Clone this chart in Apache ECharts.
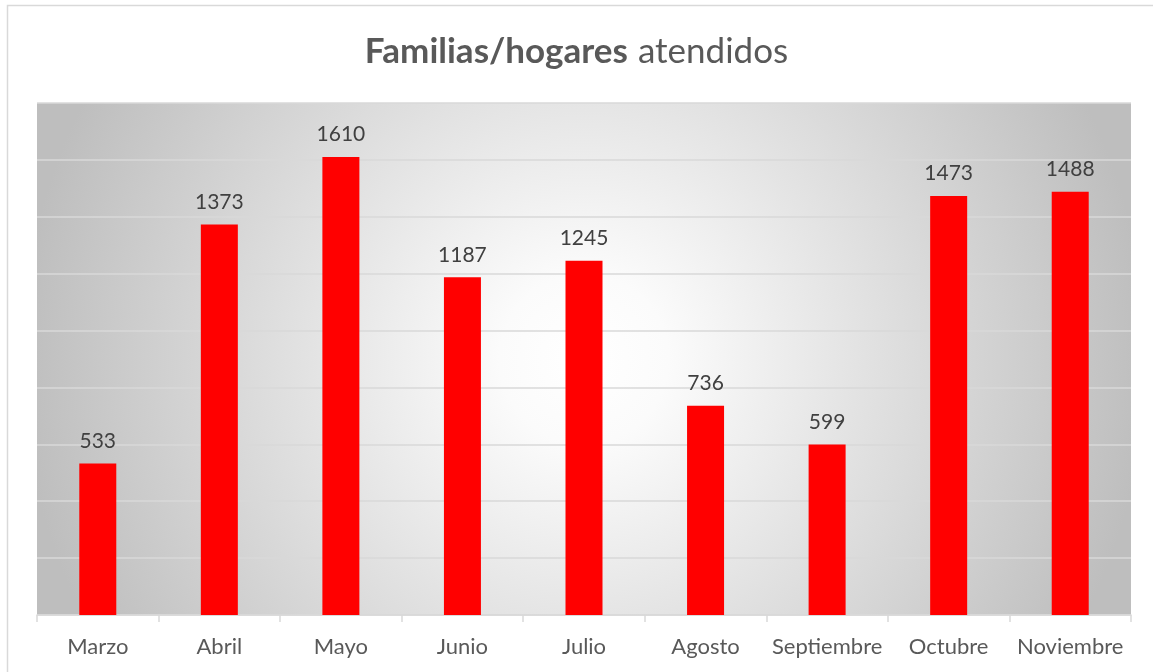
<!DOCTYPE html>
<html>
<head>
<meta charset="utf-8">
<script src="https://cdn.jsdelivr.net/npm/echarts@6/dist/echarts.min.js"></script>
<style>
  html, body { margin: 0; padding: 0; background: #fff; }
  #main { width: 1153px; height: 672px; }
</style>
</head>
<body>
<div id="main"></div>
<script>
var months = ['Marzo', 'Abril', 'Mayo', 'Junio', 'Julio', 'Agosto', 'Septiembre', 'Octubre', 'Noviembre'];
var familias = [533, 1373, 1610, 1187, 1245, 736, 599, 1473, 1488];

var chartDom = document.getElementById('main');
var myChart = echarts.init(chartDom);
var option;

var font = 'Lato, "Open Sans", sans-serif';

option = {
  backgroundColor: '#fff',
  textStyle: { fontFamily: font },
  graphic: [
    {
      type: 'rect',
      shape: { x: 7.5, y: 5.5, width: 1160, height: 680 },
      style: { fill: 'none', stroke: '#d9d9d9', lineWidth: 1.5 },
      z: -1
    }
  ],
  title: {
    text: '{b|Familias/hogares}{n|atendidos}',
    left: 'center',
    top: 29,
    textStyle: {
      rich: {
        b: { fontSize: 35, fontWeight: 'bold', color: '#595959', fontFamily: font },
        n: { fontSize: 35, fontWeight: 'normal', color: '#595959', fontFamily: font, padding: [0, 0, 0, 10] }
      }
    }
  },
  grid: {
    left: 37,
    right: 22,
    top: 103,
    bottom: 57,
    show: true,
    borderWidth: 0,
    backgroundColor: {
      type: 'radial',
      x: 0.5,
      y: 0.5,
      r: 1.1,
      colorStops: [
        { offset: 0, color: '#ffffff' },
        { offset: 0.15, color: '#fbfbfb' },
        { offset: 1, color: '#bebebe' }
      ]
    }
  },
  xAxis: {
    type: 'category',
    data: months,
    axisLine: { lineStyle: { color: '#d9d9d9', width: 1.5 } },
    axisTick: { show: true, interval: 0, length: 7, lineStyle: { color: '#d9d9d9', width: 1.5 } },
    axisLabel: { interval: 0, color: '#595959', fontSize: 22, margin: 21, fontFamily: font }
  },
  yAxis: {
    type: 'value',
    min: 0,
    max: 1800,
    interval: 200,
    axisLabel: { show: false },
    axisLine: { show: false },
    axisTick: { show: false },
    splitLine: { lineStyle: { color: '#d9d9d9', width: 1.5 } }
  },
  series: [
    {
      type: 'bar',
      data: familias,
      barWidth: 37,
      itemStyle: { color: '#ff0000' },
      label: {
        show: true,
        position: 'top',
        distance: 12,
        color: '#404040',
        fontSize: 21,
        fontFamily: font
      }
    }
  ]
};

option && myChart.setOption(option);
</script>
</body>
</html>
